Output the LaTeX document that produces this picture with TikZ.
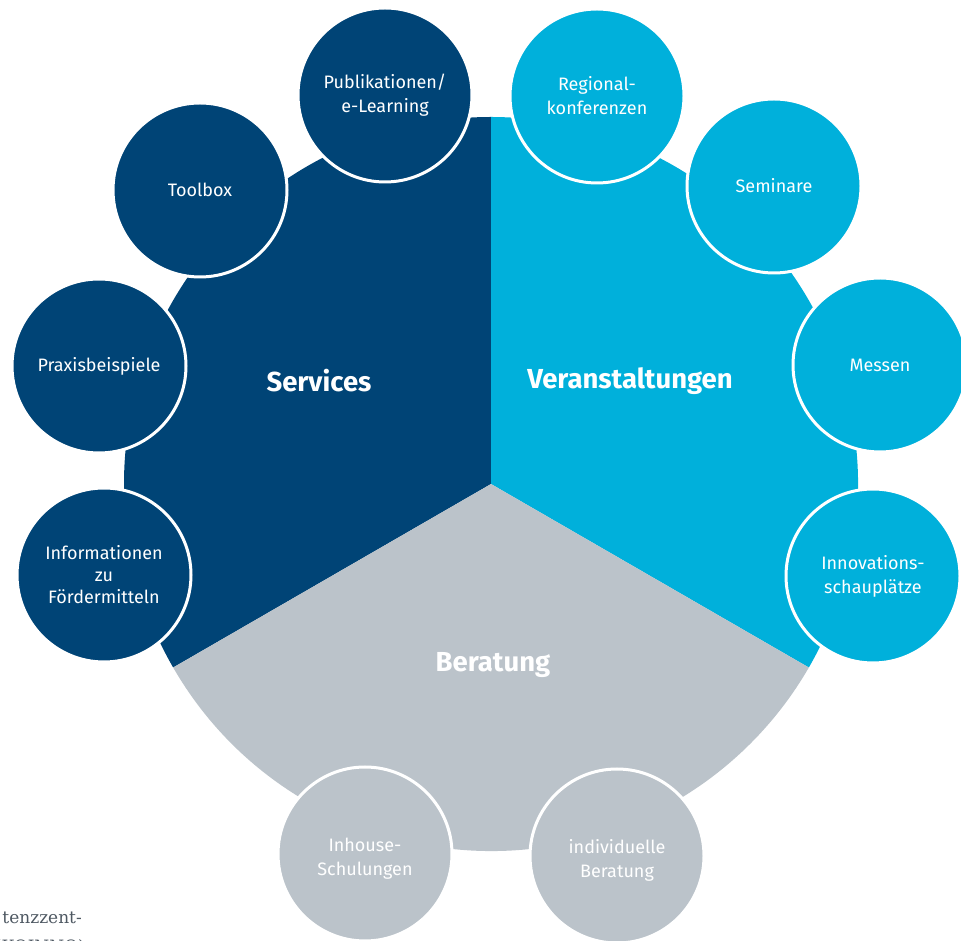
\documentclass[tikz,border=0pt]{standalone}
\usepackage{fontspec}
\setmainfont{Fira Sans}
\newfontfamily\cutserif{DejaVu Serif}
\definecolor{servcol}{RGB}{0,68,118}
\definecolor{veracol}{RGB}{0,176,219}
\definecolor{beracol}{RGB}{187,195,202}
\definecolor{cutgrey}{RGB}{78,88,98}
\tikzset{
  bubble/.style={circle, minimum size=174pt, inner sep=0pt, draw=white, line width=3pt,
    text=white, align=center, font=\fontsize{18}{24}\selectfont},
  bigword/.style={text=white, inner sep=0pt, font=\bfseries\fontsize{27.5}{32}\selectfont},
  cuttext/.style={anchor=base east, inner sep=0pt, text=cutgrey, font=\cutserif\fontsize{17}{24}\selectfont}
}
\begin{document}
\begin{tikzpicture}[x=1pt,y=1pt]
\useasboundingbox (0,0) rectangle (961,940);
\clip (0,0) rectangle (961,940);
\fill[white] (0,0) rectangle (961,940);
\coordinate (C) at (491,456);
% sectors
\fill[servcol] (C) -- ++(90:367) arc[start angle=90,end angle=210,radius=367] -- cycle;
\fill[veracol] (C) -- ++(-30:367) arc[start angle=-30,end angle=90,radius=367] -- cycle;
\fill[beracol] (C) -- ++(210:367) arc[start angle=210,end angle=330,radius=367] -- cycle;
% sector labels
\node[bigword] (services) at (319,559) {Services};
\node[bigword] (veranst) at (630,559) {Veranstaltungen};
\node[bigword] (beratung) at (493,275) {Beratung};
% bubbles
\node[bubble, fill=servcol] (publ) at (385,845) {Publikationen/\\e-Learning};
\node[bubble, fill=servcol] (tool) at (200,750) {Toolbox};
\node[bubble, fill=servcol] (prax) at (99,574) {Praxisbeispiele};
\node[bubble, fill=servcol, font=\fontsize{18}{22}\selectfont] (info) at (104,365) {Informationen\\zu\\Fördermitteln};
\node[bubble, fill=veracol] (regio) at (597,844) {Regional-\\konferenzen};
\node[bubble, fill=veracol] (semi) at (774,754) {Seminare};
\node[bubble, fill=veracol] (messen) at (880,575) {Messen};
\node[bubble, fill=veracol] (innov) at (873,364) {Innovations-\\schauplätze};
\node[bubble, fill=beracol] (inhouse) at (365,86) {\rule{0pt}{23pt}Inhouse-\\Schulungen};
\node[bubble, fill=beracol] (indiv) at (617,84) {\rule{0pt}{23pt}individuelle\\Beratung};
% cut-off page text
\node[cuttext] (cut1) at (82,17) {tenzzent-};
\node[cuttext] (cut2) at (85,-12) {(KOINNO)};
\end{tikzpicture}
\end{document}
